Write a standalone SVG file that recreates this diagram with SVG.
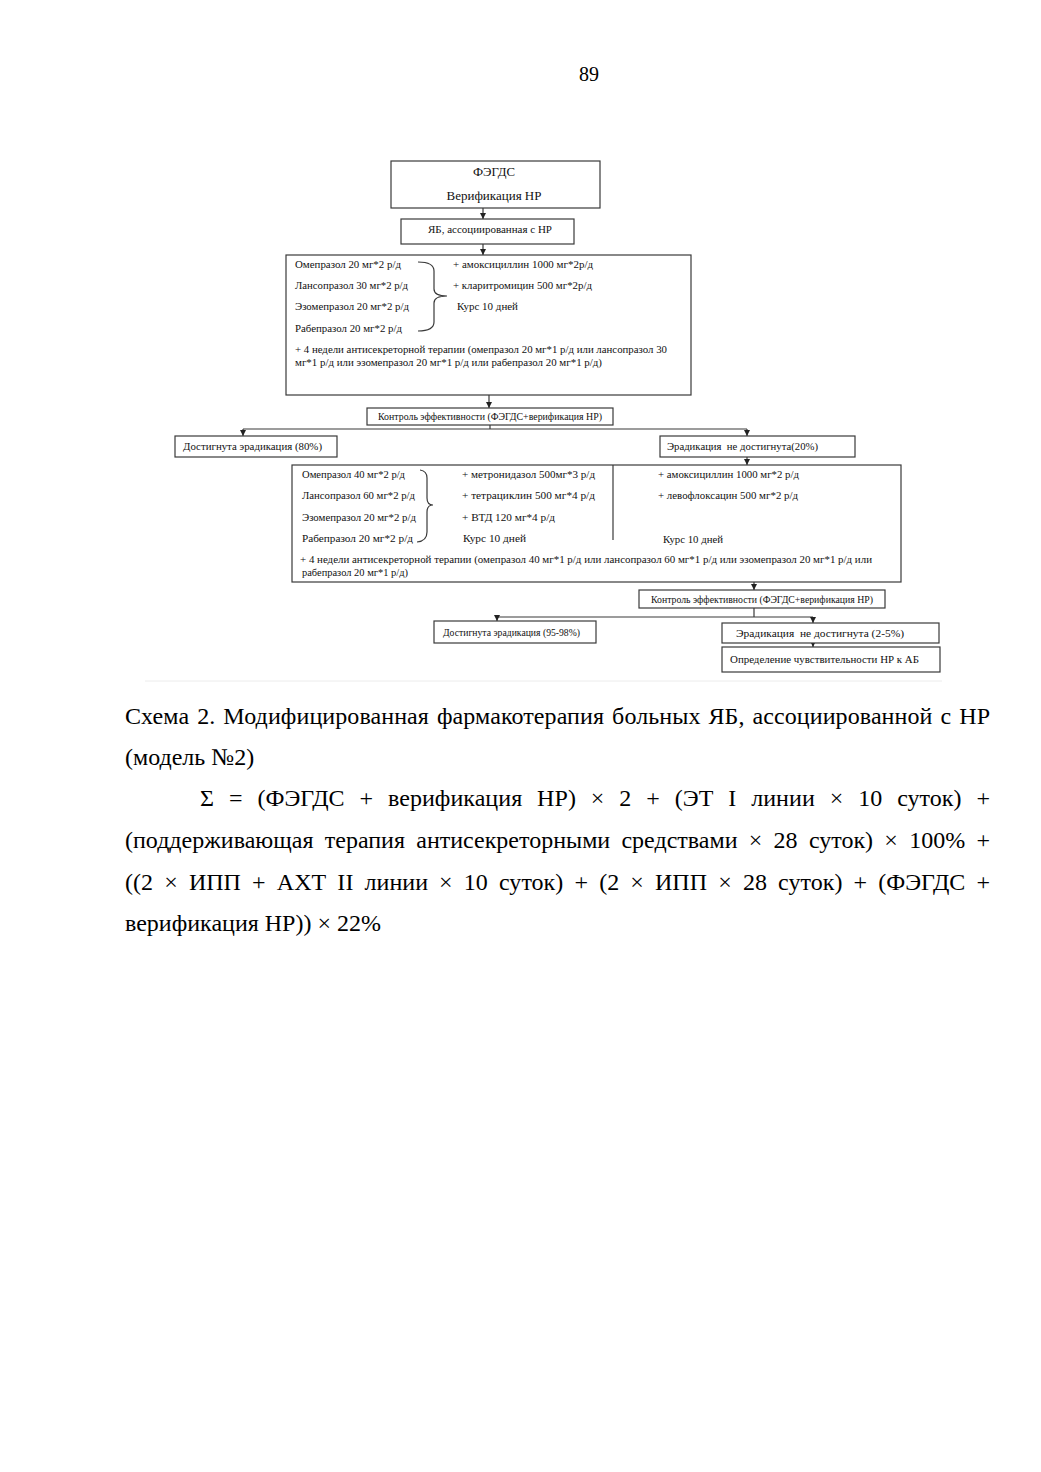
<svg xmlns="http://www.w3.org/2000/svg" width="1041" height="1472" viewBox="0 0 1041 1472">
<style>
.bg{fill:#ffffff}
.box{fill:#ffffff;stroke:#3a3a3a;stroke-width:1.2}
.ln{fill:none;stroke:#3a3a3a;stroke-width:1.2}
.t{font-family:"Liberation Serif","Times New Roman",serif;font-size:11px;fill:#111}
.tb{font-family:"Liberation Serif","Times New Roman",serif;font-size:13px;fill:#111}
.c{font-family:"Liberation Serif","Times New Roman",serif;font-size:24px;fill:#000}
.pn{font-family:"Liberation Serif","Times New Roman",serif;font-size:20px;fill:#000}
</style>
<defs>
<marker id="ah" viewBox="0 0 6 6" refX="6" refY="3" markerWidth="6" markerHeight="6" orient="auto" markerUnits="userSpaceOnUse"><path d="M0,0 L6,3 L0,6 z" fill="#222"/></marker>
</defs>
<rect class="bg" x="0" y="0" width="1041" height="1472"/>
<text class="pn" x="589" y="81" text-anchor="middle">89</text>

<g id="connectors">
<line class="ln" x1="483" y1="208" x2="483" y2="219" marker-end="url(#ah)"/>
<line class="ln" x1="483" y1="244" x2="483" y2="255" marker-end="url(#ah)"/>
<line class="ln" x1="489" y1="395" x2="489" y2="408" marker-end="url(#ah)"/>
<line class="ln" x1="490" y1="425" x2="490" y2="429"/>
<line class="ln" x1="243" y1="429" x2="747" y2="429"/>
<line class="ln" x1="243" y1="429" x2="243" y2="436" marker-end="url(#ah)"/>
<line class="ln" x1="747" y1="429" x2="747" y2="436" marker-end="url(#ah)"/>
<line class="ln" x1="747" y1="457" x2="747" y2="465" marker-end="url(#ah)"/>
<line class="ln" x1="754" y1="582" x2="754" y2="590" marker-end="url(#ah)"/>
<line class="ln" x1="754" y1="608" x2="754" y2="617"/>
<line class="ln" x1="497" y1="617" x2="813" y2="617"/>
<line class="ln" x1="497" y1="617" x2="497" y2="621" marker-end="url(#ah)"/>
<line class="ln" x1="813" y1="617" x2="813" y2="623" marker-end="url(#ah)"/>
<line class="ln" x1="813" y1="643" x2="813" y2="647" marker-end="url(#ah)"/>
</g>

<g id="n-fegds">
<rect class="box" x="391" y="161" width="209" height="47"/>
<text class="tb" x="494" y="176" text-anchor="middle" textLength="42" lengthAdjust="spacingAndGlyphs">ФЭГДС</text>
<text class="tb" x="494" y="200" text-anchor="middle" textLength="95" lengthAdjust="spacingAndGlyphs">Верификация НР</text>
</g>

<g id="n-yab">
<rect class="box" x="401" y="219" width="173" height="25"/>
<text class="t" x="428" y="233" textLength="124" lengthAdjust="spacingAndGlyphs">ЯБ, ассоциированная с НР</text>
</g>

<g id="n-therapy1">
<rect class="box" x="286" y="255" width="405" height="140"/>
<text class="t" x="295" y="268" textLength="106" lengthAdjust="spacingAndGlyphs">Омепразол 20 мг*2 р/д</text>
<text class="t" x="295" y="289" textLength="113" lengthAdjust="spacingAndGlyphs">Лансопразол 30 мг*2 р/д</text>
<text class="t" x="295" y="310" textLength="114" lengthAdjust="spacingAndGlyphs">Эзомепразол 20 мг*2 р/д</text>
<text class="t" x="295" y="332" textLength="107" lengthAdjust="spacingAndGlyphs">Рабепразол 20 мг*2 р/д</text>
<path class="ln" d="M418,262 Q434,262 434,271 L434,289 Q434,296 447,296 Q434,296 434,303 L434,322 Q434,331 418,331"/>
<text class="t" x="453" y="268" textLength="140" lengthAdjust="spacingAndGlyphs">+ амоксициллин 1000 мг*2р/д</text>
<text class="t" x="453" y="289" textLength="139" lengthAdjust="spacingAndGlyphs">+ кларитромицин 500 мг*2р/д</text>
<text class="t" x="457" y="310" textLength="61" lengthAdjust="spacingAndGlyphs">Курс 10 дней</text>
<text class="t" x="295" y="353" textLength="372" lengthAdjust="spacingAndGlyphs">+ 4 недели антисекреторной терапии (омепразол 20 мг*1 р/д или лансопразол 30</text>
<text class="t" x="295" y="366" textLength="307" lengthAdjust="spacingAndGlyphs">мг*1 р/д или эзомепразол 20 мг*1 р/д или рабепразол 20 мг*1 р/д)</text>
</g>

<g id="n-control1">
<rect class="box" x="367" y="408" width="246" height="17"/>
<text class="t" x="378" y="420" textLength="224" lengthAdjust="spacingAndGlyphs">Контроль эффективности (ФЭГДС+верификация НР)</text>
</g>

<g id="n-success1">
<rect class="box" x="175" y="436" width="162" height="21"/>
<text class="t" x="183" y="450" textLength="139" lengthAdjust="spacingAndGlyphs">Достигнута эрадикация (80%)</text>
</g>

<g id="n-fail1">
<rect class="box" x="660" y="436" width="195" height="21"/>
<text class="t" x="667" y="450" textLength="151" lengthAdjust="spacingAndGlyphs" xml:space="preserve">Эрадикация  не достигнута(20%)</text>
</g>

<g id="n-therapy2">
<rect class="box" x="292" y="465" width="609" height="117"/>
<text class="t" x="302" y="478" textLength="103" lengthAdjust="spacingAndGlyphs">Омепразол 40 мг*2 р/д</text>
<text class="t" x="302" y="499" textLength="113" lengthAdjust="spacingAndGlyphs">Лансопразол 60 мг*2 р/д</text>
<text class="t" x="302" y="521" textLength="114" lengthAdjust="spacingAndGlyphs">Эзомепразол 20 мг*2 р/д</text>
<text class="t" x="302" y="542" textLength="111" lengthAdjust="spacingAndGlyphs">Рабепразол 20 мг*2 р/д</text>
<path class="ln" d="M420,470 Q427,471 427,478 L427,498 Q427,505 433,505 Q427,505 427,512 L427,532 Q427,541 417,542"/>
<text class="t" x="462" y="478" textLength="133" lengthAdjust="spacingAndGlyphs">+ метронидазол 500мг*3 р/д</text>
<text class="t" x="462" y="499" textLength="133" lengthAdjust="spacingAndGlyphs">+ тетрациклин 500 мг*4 р/д</text>
<text class="t" x="462" y="521" textLength="93" lengthAdjust="spacingAndGlyphs">+ ВТД 120 мг*4 р/д</text>
<text class="t" x="463" y="542" textLength="63" lengthAdjust="spacingAndGlyphs">Курс 10 дней</text>
<line class="ln" x1="613" y1="465" x2="613" y2="540"/>
<text class="t" x="658" y="478" textLength="141" lengthAdjust="spacingAndGlyphs">+ амоксициллин 1000 мг*2 р/д</text>
<text class="t" x="658" y="499" textLength="140" lengthAdjust="spacingAndGlyphs">+ левофлоксацин 500 мг*2 р/д</text>
<text class="t" x="663" y="543" textLength="60" lengthAdjust="spacingAndGlyphs">Курс 10 дней</text>
<text class="t" x="300" y="563" textLength="572" lengthAdjust="spacingAndGlyphs">+ 4 недели антисекреторной терапии (омепразол 40 мг*1 р/д или лансопразол 60 мг*1 р/д или эзомепразол 20 мг*1 р/д или</text>
<text class="t" x="302" y="576" textLength="106" lengthAdjust="spacingAndGlyphs">рабепразол 20 мг*1 р/д)</text>
</g>

<g id="n-control2">
<rect class="box" x="639" y="590" width="246" height="18"/>
<text class="t" x="651" y="603" textLength="222" lengthAdjust="spacingAndGlyphs">Контроль эффективности (ФЭГДС+верификация НР)</text>
</g>

<g id="n-success2">
<rect class="box" x="434" y="621" width="162" height="22"/>
<text class="t" x="443" y="636" textLength="137" lengthAdjust="spacingAndGlyphs">Достигнута эрадикация (95-98%)</text>
</g>

<g id="n-fail2">
<rect class="box" x="722" y="623" width="217" height="20"/>
<text class="t" x="736" y="637" textLength="168" lengthAdjust="spacingAndGlyphs" xml:space="preserve">Эрадикация  не достигнута (2-5%)</text>
</g>

<g id="n-sens">
<rect class="box" x="722" y="647" width="218" height="25"/>
<text class="t" x="730" y="663" textLength="189" lengthAdjust="spacingAndGlyphs">Определение чувствительности НР к АБ</text>
</g>

<line x1="145" y1="681" x2="942" y2="681" stroke="#ececec" stroke-width="1"/>

<g id="caption">
<text class="c" x="125" y="724" word-spacing="1.9" textLength="865" lengthAdjust="spacing">Схема 2. Модифицированная фармакотерапия больных ЯБ, ассоциированной с НР</text>
<text class="c" x="125" y="765">(модель №2)</text>
<text class="c" x="200" y="806" word-spacing="8.85" textLength="790" lengthAdjust="spacing">Σ = (ФЭГДС + верификация НР) × 2 + (ЭТ I линии × 10 суток) +</text>
<text class="c" x="125" y="848" word-spacing="5.27" textLength="865" lengthAdjust="spacing">(поддерживающая терапия антисекреторными средствами × 28 суток) × 100% +</text>
<text class="c" x="125" y="890" word-spacing="5.09" textLength="865" lengthAdjust="spacing">((2 × ИПП + АХТ II линии × 10 суток) + (2 × ИПП × 28 суток) + (ФЭГДС +</text>
<text class="c" x="125" y="931">верификация НР)) × 22%</text>
</g>
</svg>
